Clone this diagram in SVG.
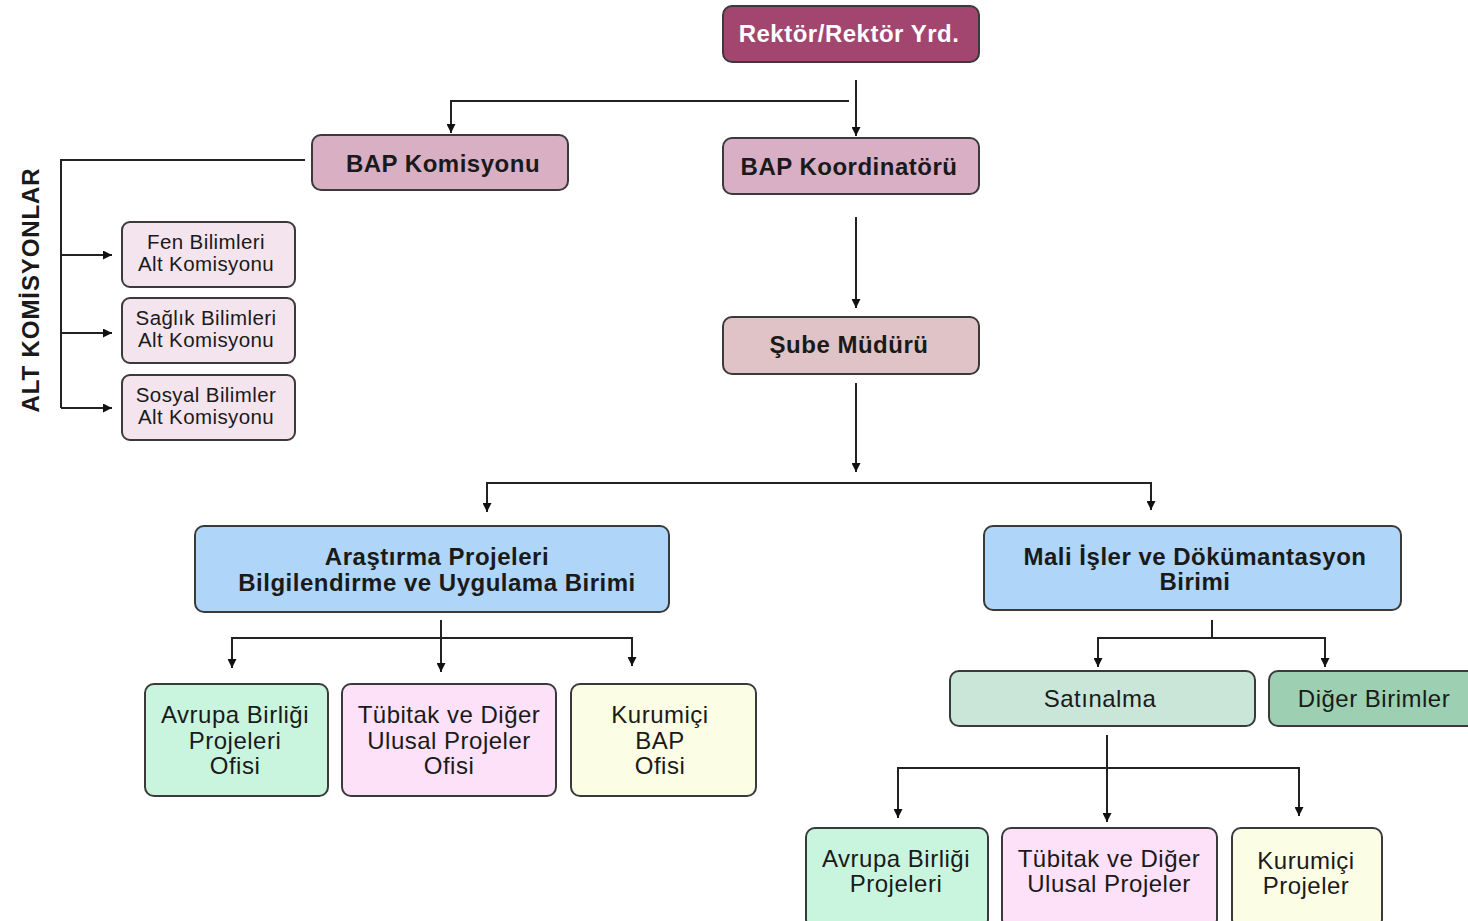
<svg xmlns="http://www.w3.org/2000/svg" width="1468" height="921" viewBox="0 0 1468 921">
<defs>
<marker id="ah" viewBox="0 0 10 10" refX="10" refY="5" markerWidth="9" markerHeight="9" markerUnits="userSpaceOnUse" orient="auto"><path d="M0,0 L10,5 L0,10 z" fill="#111"/></marker>
<style>
.bx{stroke:#3a3a3a;stroke-width:2}
.b{font-family:"Liberation Sans",Arial,sans-serif;font-weight:bold;font-size:24px;letter-spacing:0.5px;fill:#1a1a1a;text-anchor:middle}
.r{font-family:"Liberation Sans",Arial,sans-serif;font-size:24px;letter-spacing:0.5px;fill:#1a1a1a;text-anchor:middle}
.s{font-family:"Liberation Sans",Arial,sans-serif;font-size:20.5px;letter-spacing:0.4px;fill:#1a1a1a;text-anchor:middle}
.ln{fill:none;stroke:#222;stroke-width:2}
.a{marker-end:url(#ah)}
</style>
</defs>
<rect width="1468" height="921" fill="#ffffff"/>
<g id="connectors">
<path class="ln a" d="M856,80 V136"/>
<path class="ln a" d="M849,101 H451 V133"/>
<path class="ln" d="M305,160 H61 V408"/>
<path class="ln a" d="M61,255 H112"/>
<path class="ln a" d="M61,333 H112"/>
<path class="ln a" d="M61,408 H112"/>
<path class="ln a" d="M856,217 V308"/>
<path class="ln a" d="M856,383 V472"/>
<path class="ln a" d="M856,483 H487 V512"/>
<path class="ln a" d="M856,483 H1151 V510"/>
<path class="ln a" d="M441,620 V672"/>
<path class="ln a" d="M441,638 H232 V668"/>
<path class="ln a" d="M441,638 H632 V666"/>
<path class="ln" d="M1212,620 V638"/>
<path class="ln a" d="M1212,638 H1098 V667"/>
<path class="ln a" d="M1212,638 H1325 V667"/>
<path class="ln a" d="M1107,735 V822"/>
<path class="ln a" d="M1107,768 H898 V818"/>
<path class="ln a" d="M1107,768 H1299 V816"/>
</g>
<g id="rektor"><rect class="bx" x="723" y="6" width="256" height="56" rx="9" fill="#a3466f"/><text class="b" x="849" y="42" style="fill:#ffffff">Rektör/Rektör Yrd.</text></g>
<g id="bapkomisyon"><rect class="bx" x="312" y="135" width="256" height="55" rx="9" fill="#d9afc4"/><text class="b" x="443" y="172">BAP Komisyonu</text></g>
<g id="bapkoord"><rect class="bx" x="723" y="138" width="256" height="56" rx="9" fill="#d9afc5"/><text class="b" x="849" y="175">BAP Koordinatörü</text></g>
<g id="altlabel"><text class="b" transform="translate(39,290) rotate(-90)" style="font-size:24px;letter-spacing:0.9px">ALT KOMİSYONLAR</text></g>
<g id="fen"><rect class="bx" x="122" y="222" width="173" height="65" rx="8" fill="#f4e4ed"/><text class="s" x="206" y="249">Fen Bilimleri</text><text class="s" x="206" y="271">Alt Komisyonu</text></g>
<g id="saglik"><rect class="bx" x="122" y="298" width="173" height="65" rx="8" fill="#f4e4ed"/><text class="s" x="206" y="325">Sağlık Bilimleri</text><text class="s" x="206" y="347">Alt Komisyonu</text></g>
<g id="sosyal"><rect class="bx" x="122" y="375" width="173" height="65" rx="8" fill="#f4e4ed"/><text class="s" x="206" y="402">Sosyal Bilimler</text><text class="s" x="206" y="424">Alt Komisyonu</text></g>
<g id="sube"><rect class="bx" x="723" y="317" width="256" height="57" rx="9" fill="#dfc3c6"/><text class="b" x="849" y="353">Şube Müdürü</text></g>
<g id="arastirma"><rect class="bx" x="195" y="526" width="474" height="86" rx="9" fill="#afd5f8"/><text class="b" x="437" y="565">Araştırma Projeleri</text><text class="b" x="437" y="591">Bilgilendirme ve Uygulama Birimi</text></g>
<g id="mali"><rect class="bx" x="984" y="526" width="417" height="84" rx="9" fill="#afd5f8"/><text class="b" x="1195" y="565">Mali İşler ve Dökümantasyon</text><text class="b" x="1195" y="590">Birimi</text></g>
<g id="ab1"><rect class="bx" x="145" y="684" width="183" height="112" rx="9" fill="#c9f5df"/><text class="r" x="235" y="723">Avrupa Birliği</text><text class="r" x="235" y="749">Projeleri</text><text class="r" x="235" y="774">Ofisi</text></g>
<g id="tub1"><rect class="bx" x="342" y="684" width="214" height="112" rx="9" fill="#fce1f8"/><text class="r" x="449" y="723">Tübitak ve Diğer</text><text class="r" x="449" y="749">Ulusal Projeler</text><text class="r" x="449" y="774">Ofisi</text></g>
<g id="kur1"><rect class="bx" x="571" y="684" width="185" height="112" rx="9" fill="#fcfde5"/><text class="r" x="660" y="723">Kurumiçi</text><text class="r" x="660" y="749">BAP</text><text class="r" x="660" y="774">Ofisi</text></g>
<g id="satinalma"><rect class="bx" x="950" y="671" width="305" height="55" rx="9" fill="#c9e6d8"/><text class="r" x="1100" y="707">Satınalma</text></g>
<g id="diger"><rect class="bx" x="1269" y="671" width="212" height="55" rx="9" fill="#9dcfb3"/><text class="r" x="1374" y="707">Diğer Birimler</text></g>
<g id="ab2"><rect class="bx" x="806" y="828" width="182" height="100" rx="9" fill="#c9f5df"/><text class="r" x="896" y="867">Avrupa Birliği</text><text class="r" x="896" y="892">Projeleri</text></g>
<g id="tub2"><rect class="bx" x="1002" y="828" width="215" height="100" rx="9" fill="#fce1f8"/><text class="r" x="1109" y="867">Tübitak ve Diğer</text><text class="r" x="1109" y="892">Ulusal Projeler</text></g>
<g id="kur2"><rect class="bx" x="1232" y="828" width="150" height="100" rx="9" fill="#fcfde5"/><text class="r" x="1306" y="869">Kurumiçi</text><text class="r" x="1306" y="894">Projeler</text></g>
</svg>
